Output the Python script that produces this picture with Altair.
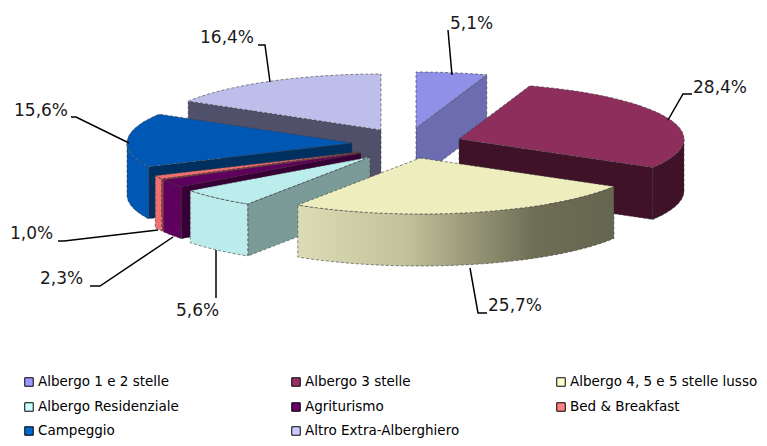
import math
import altair as alt

# ---- data ----
categories = ["Albergo 1 e 2 stelle", "Albergo 3 stelle", "Albergo 4, 5 e 5 stelle lusso",
              "Albergo Residenziale", "Agriturismo", "Bed & Breakfast", "Campeggio",
              "Altro Extra-Alberghiero"]
shares = [5.1, 28.4, 25.7, 5.6, 2.3, 1.0, 15.6, 16.4]
value_labels = ["5,1%", "28,4%", "25,7%", "5,6%", "2,3%", "1,0%", "15,6%", "16,4%"]

# ---- styles ----
legend_colors = ["#9999FF", "#993366", "#FFFFCC", "#CCFFFF", "#660066", "#FF8080", "#0066CC", "#CCCCFF"]
top_colors = ["#9090E8", "#8E2E5C", "#EDEDBE", "#BCEDED", "#5E005E", "#F07070", "#0058B4", "#BEBEEA"]
rim_colors = ["#6C6CB0", "#3F1228", "#C8C8A0", "#BCEBEB", "#5E005E", "#F07070", "#0058B4", "#50506A"]
cut_colors = ["#6C6CB0", "#3F1228", "#7E7E60", "#7B9B98", "#360036", "#A04040", "#003060", "#50506A"]

# ---- layout (screen pixels) ----
OFF = 8
A, B, DEPTH = 225, 56, 52
apex = [(416, 128), (459, 139), (420, 158), (370, 157), (361, 153), (359, 152), (352, 143), (381, 130)]
draw_order = [0, 7, 6, 5, 4, 3, 1]   # slice 2 (index) is drawn last, with its gradient rim
leaders = [[(452, 75), (448, 30)],
           [(668, 120), (683, 94), (692, 94)],
           [(470, 268), (478, 313), (487, 313)],
           [(216, 250), (216, 298)],
           [(173, 237), (100, 286), (90, 286)],
           [(158, 230), (64, 241), (58, 241)],
           [(129, 143), (76, 117), (71, 117)],
           [(270, 82), (265, 45), (258, 45)]]
label_pos = [(450, 24), (693, 88), (488, 306), (176, 311), (40, 279), (10, 234), (14, 111), (200, 38)]
legend_x = [29, 296, 561]
legend_y = [382, 407, 431]
FONT = "DejaVu Sans"

edges = [0.0]
for s in shares:
    edges.append(edges[-1] + s)
total = edges[-1]
angles = [e / total * 360 for e in edges]


def pt(i, deg, down=0):
    t = math.radians(deg)
    return [apex[i][0] + A * math.sin(t) - OFF, apex[i][1] - B * math.cos(t) + down - OFF]


def feature(ring, fill):
    ring = ring + [ring[0]]
    return {"type": "Feature", "geometry": {"type": "Polygon", "coordinates": [ring]},
            "properties": {"fill": fill}}


def arc(i, a0, a1):
    n = max(2, int(abs(a1 - a0) / 2) + 2)
    return [pt(i, a0 + (a1 - a0) * k / (n - 1)) for k in range(n)]


def cut_face(i, deg):
    c = [apex[i][0] - OFF, apex[i][1] - OFF]
    e = pt(i, deg)
    return feature([c, e, [e[0], e[1] + DEPTH], [c[0], c[1] + DEPTH]], cut_colors[i])


def rim_face(i, color):
    a0, a1 = max(angles[i], 90), min(angles[i + 1], 270)
    if a1 <= a0:
        return None
    top = arc(i, a0, a1)
    return feature(top + [[x, y + DEPTH] for x, y in reversed(top)], color)


def top_face(i):
    c = [apex[i][0] - OFF, apex[i][1] - OFF]
    return feature([c] + arc(i, angles[i], angles[i + 1]), top_colors[i])


features = []
for i in draw_order:
    a0, a1 = angles[i], angles[i + 1]
    if math.sin(math.radians(a0)) < 0:
        features.append(cut_face(i, a0))
    if math.sin(math.radians(a1)) > 0:
        features.append(cut_face(i, a1))
    r = rim_face(i, rim_colors[i])
    if r:
        features.append(r)
    features.append(top_face(i))

proj = alt.Projection(type="identity", scale=1, translate=[0, 0])
edge = dict(strokeWidth=0.6, strokeDash=[3, 2])

faces = alt.Chart(alt.Data(values=features)).mark_geoshape(stroke="#3a3a3a", **edge).encode(
    fill=alt.Fill("properties.fill:N", scale=None)).project(**proj.to_dict())

gradient = alt.Gradient(gradient="linear", x1=0, x2=1, y1=0, y2=0, stops=[
    alt.GradientStop(offset=0, color="#DCDCB4"),
    alt.GradientStop(offset=0.35, color="#C0C09A"),
    alt.GradientStop(offset=0.75, color="#6E6E56"),
    alt.GradientStop(offset=1, color="#666650")])
rim3 = alt.Chart(alt.Data(values=[rim_face(2, "#C8C8A0")])).mark_geoshape(
    fill=gradient, stroke="#3a3a3a", **edge).project(**proj.to_dict())
top3 = alt.Chart(alt.Data(values=[top_face(2)])).mark_geoshape(
    stroke="#3a3a3a", **edge).encode(fill=alt.Fill("properties.fill:N", scale=None)).project(**proj.to_dict())

leader_rows = [{"g": i, "k": k, "x": x - OFF, "y": y - OFF}
               for i, line in enumerate(leaders) for k, (x, y) in enumerate(line)]
lines = alt.Chart(alt.Data(values=leader_rows)).mark_line(color="black", strokeWidth=1.5).encode(
    x=alt.X("x:Q", scale=None), y=alt.Y("y:Q", scale=None), detail="g:N", order="k:Q")

label_rows = [{"t": t, "x": p[0] - OFF, "y": p[1] - OFF} for t, p in zip(value_labels, label_pos)]
labels = alt.Chart(alt.Data(values=label_rows)).mark_text(
    align="left", baseline="middle", font=FONT, fontSize=17, color="#1a1a1a").encode(
    x=alt.X("x:Q", scale=None), y=alt.Y("y:Q", scale=None), text="t:N")

legend_rows = [{"t": c, "col": legend_colors[i], "x": legend_x[i % 3] - OFF, "y": legend_y[i // 3] - OFF,
                "tx": legend_x[i % 3] + 9 - OFF}
               for i, c in enumerate(categories)]
leg_sym = alt.Chart(alt.Data(values=legend_rows)).mark_square(
    size=72, opacity=1, stroke="black", strokeWidth=1).encode(
    x=alt.X("x:Q", scale=None), y=alt.Y("y:Q", scale=None), fill=alt.Fill("col:N", scale=None))
leg_txt = alt.Chart(alt.Data(values=legend_rows)).mark_text(
    align="left", baseline="middle", font=FONT, fontSize=13.5, color="black").encode(
    x=alt.X("tx:Q", scale=None), y=alt.Y("y:Q", scale=None), text="t:N")

chart = alt.layer(faces, rim3, top3, lines, labels, leg_sym, leg_txt).properties(
    width=751, height=430, padding=0, background="white",
    autosize=alt.AutoSizeParams(type="none", contains="padding")
).configure_view(stroke=None)
chart.save("out.html", embed_options={"renderer": "svg", "actions": False})
